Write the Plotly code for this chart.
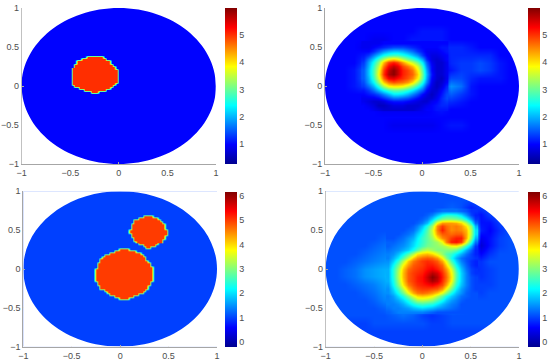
import numpy as np
import plotly.graph_objects as go

# ---------- data ----------
grid_axis = [-1.0,-0.9,-0.8,-0.7,-0.6,-0.5,-0.4,-0.3,-0.2,-0.1,0.0,0.1,0.2,0.3,0.4,0.5,0.6,0.7,0.8,0.9,1.0]

# top-right panel, rows from y=1 down to y=-1
recon_one = [
[1.0]*21,
[1.0]*21,
[1.0,1.0,1.0,1.0,1.0,1.0,1.0,1.0,1.0,1.0,1.0,1.0,1.0,1.0,1.0,1.0,1.0,1.0,1.0,1.0,1.0],
[1.0,1.0,1.0,1.0,1.0,1.0,1.0,1.0,1.0,1.0,1.1,1.1,1.1,1.0,1.0,1.0,1.0,1.0,1.0,1.0,1.0],
[1.0,1.0,1.0,1.0,1.0,0.9,0.9,1.0,1.0,1.1,1.1,1.1,1.1,1.0,1.0,1.0,1.0,1.0,1.0,1.0,1.0],
[1.0,1.0,1.0,1.0,0.9,0.9,0.9,1.1,1.1,1.1,1.0,1.0,1.2,1.2,1.2,1.1,1.0,1.0,1.0,1.0,1.0],
[1.0,1.0,1.0,1.0,1.1,1.0,1.0,1.0,1.0,1.0,1.0,0.8,1.0,1.2,1.2,1.2,1.2,1.2,1.0,1.0,1.0],
[1.0,1.0,1.0,1.0,1.3,1.0,1.0,1.0,1.0,1.0,1.0,0.9,0.9,1.2,1.3,1.3,1.4,1.3,1.1,1.0,1.0],
[1.0,1.0,1.0,1.1,1.5,1.0,1.0,1.0,1.0,1.0,1.0,1.0,0.9,1.1,1.3,1.3,1.4,1.3,1.1,1.0,1.0],
[1.0,1.0,1.0,1.1,1.5,1.0,1.0,1.0,1.0,1.0,1.0,1.0,0.9,1.4,1.4,1.2,1.1,1.1,1.1,1.0,1.0],
[1.0,1.0,1.0,1.1,1.3,1.0,1.0,1.0,1.0,1.0,1.0,1.0,1.2,1.8,1.6,1.1,1.0,1.0,1.0,1.0,1.0],
[1.0,1.0,1.0,1.0,1.0,1.0,1.0,1.0,1.0,1.0,1.0,1.0,1.3,1.5,1.3,1.1,1.0,1.0,1.0,1.0,1.0],
[1.0,1.0,1.0,1.0,1.0,1.0,1.0,1.0,1.0,1.0,1.0,1.0,1.2,1.2,1.1,1.0,1.0,1.0,1.0,1.0,1.0],
[1.0,1.0,1.0,1.0,1.0,1.0,0.9,0.9,0.9,0.9,0.9,1.0,1.1,1.0,1.0,1.0,1.0,1.0,1.0,1.0,1.0],
[1.0,1.0,1.0,1.0,1.0,1.0,1.0,1.0,1.0,1.0,1.0,1.0,1.0,1.0,1.0,1.0,1.0,1.0,1.0,1.0,1.0],
[1.0,1.0,1.0,1.0,1.0,1.0,1.0,0.9,0.9,0.9,0.9,0.9,1.0,1.1,1.1,1.0,1.0,1.0,1.0,1.0,1.0],
[1.0,1.0,1.0,1.0,1.0,1.0,1.0,1.0,1.0,1.0,1.0,1.0,1.0,1.0,1.0,1.0,1.0,1.0,1.0,1.0,1.0],
[1.0]*21,
[1.0]*21,
[1.0]*21,
[1.0]*21,
]
# finer read of the reconstructed inclusion, top-right panel
patch_one_x = [-.6,-.55,-.5,-.45,-.4,-.35,-.3,-.25,-.2,-.15,-.1,-.05,0,.05,.1,.15,.2,.25]
patch_one_y = [.55,.5,.45,.4,.35,.3,.25,.2,.15,.1,.05,0,-.05,-.1,-.15,-.2,-.25,-.3]
patch_one = [
[.9,.9,.9,.9,1.0,1.0,1.0,1.0,1.0,1.0,1.0,1.0,1.0,1.0,1.0,1.0,1.0,1.0],
[.9,.9,1.0,1.1,1.2,1.3,1.4,1.4,1.4,1.3,1.2,1.1,1.0,1.0,1.0,1.0,1.1,1.1],
[1.0,1.0,1.2,1.5,1.8,2.0,2.1,2.1,2.0,1.8,1.6,1.3,1.1,.9,.9,.9,1.0,1.1],
[1.1,1.3,1.7,2.1,2.5,2.7,2.8,2.8,2.6,2.4,2.1,1.8,1.3,1.0,.8,.8,.9,1.0],
[1.2,1.7,2.2,2.8,3.4,3.9,4.1,3.9,3.5,3.1,2.8,2.4,1.9,1.2,.8,.7,.8,1.0],
[1.3,1.9,2.5,3.2,4.2,4.9,5.1,4.9,4.4,3.9,3.5,3.0,2.3,1.5,.9,.7,.7,.9],
[1.4,2.0,2.7,3.5,4.6,5.3,5.6,5.4,4.9,4.6,4.2,3.6,2.7,1.7,1.0,.7,.7,.9],
[1.5,2.1,2.8,3.7,4.9,5.6,5.9,5.6,5.1,4.9,4.6,3.9,2.9,1.9,1.0,.7,.7,.9],
[1.5,2.1,2.8,3.8,5.0,5.7,5.9,5.6,5.1,4.9,4.7,4.1,3.0,2.0,1.1,.7,.7,.9],
[1.5,2.0,2.7,3.6,4.7,5.3,5.4,5.2,5.0,4.8,4.5,3.9,2.9,1.9,1.0,.7,.6,.9],
[1.4,1.9,2.4,3.2,4.1,4.6,4.8,4.7,4.6,4.4,4.0,3.3,2.5,1.7,.9,.6,.7,1.0],
[1.3,1.6,2.0,2.6,3.3,3.8,3.9,3.9,3.8,3.5,3.1,2.6,2.0,1.3,.8,.6,.8,1.2],
[1.1,1.3,1.6,2.0,2.4,2.7,2.9,2.9,2.8,2.6,2.3,1.9,1.5,1.0,.7,.7,1.0,1.3],
[1.0,1.1,1.2,1.4,1.7,2.0,2.3,2.3,2.2,2.0,1.7,1.4,1.0,.8,.6,.8,1.1,1.4],
[.9,.9,.9,1.0,1.2,1.4,1.6,1.6,1.5,1.4,1.2,1.0,.8,.7,.7,.9,1.2,1.4],
[.9,.8,.7,.7,.8,1.0,1.1,1.1,1.1,1.0,.9,.8,.7,.7,.9,1.0,1.2,1.3],
[1.0,.9,.8,.6,.6,.7,.8,.8,.8,.7,.7,.7,.8,.9,1.0,1.1,1.2,1.2],
[1.0,1.0,.9,.8,.7,.7,.7,.7,.7,.7,.7,.8,.9,1.0,1.0,1.1,1.1,1.1],
]

# bottom-right panel, rows from y=1 down to y=-1
recon_two = [
[1.1]*21,
[1.1]*21,
[1.1,1.1,1.1,1.1,1.1,1.1,1.1,1.1,1.1,1.1,1.1,1.1,1.1,1.2,1.1,0.8,1.0,1.1,1.1,1.1,1.1],
[1.1,1.1,1.1,1.1,1.1,1.1,1.1,1.1,1.1,1.1,1.1,1.3,1.7,1.9,1.6,1.0,0.7,1.0,1.1,1.1,1.1],
[1.1,1.1,1.1,1.1,1.1,1.1,1.1,1.1,1.1,1.2,1.3,2.0,3.8,4.2,3.6,1.7,0.7,0.7,1.0,1.1,1.1],
[1.1,1.1,1.1,1.1,1.1,1.1,1.1,1.1,1.2,1.3,1.8,3.0,5.2,4.8,4.5,3.0,0.8,0.6,0.9,1.1,1.1],
[1.1,1.1,1.1,1.1,1.1,1.1,1.2,1.2,1.3,1.5,2.1,2.9,4.5,5.0,5.1,3.0,0.5,0.7,1.0,1.1,1.1],
[1.1,1.1,1.1,1.1,1.1,1.2,1.3,1.4,1.5,1.7,2.3,2.7,3.3,5.2,4.8,1.7,0.3,0.7,1.0,1.1,1.1],
[1.1,1.1,1.1,1.1,1.2,1.3,1.4,1.5,1.7,2.1,2.8,2.6,2.5,2.5,1.9,1.1,0.6,0.9,1.1,1.1,1.1],
[1.1,1.1,1.1,1.2,1.3,1.4,1.5,1.6,2.1,3.2,4.3,4.5,3.5,2.0,1.4,1.0,0.9,1.1,1.1,1.1,1.1],
[1.1,1.1,1.2,1.3,1.5,1.6,1.7,1.7,3.0,4.5,5.2,5.2,4.6,2.8,1.5,0.8,0.9,1.0,1.1,1.1,1.1],
[1.1,1.1,1.2,1.3,1.5,1.6,1.7,2.0,3.7,5.0,5.3,6.1,5.4,3.3,1.6,1.1,0.9,1.0,1.1,1.1,1.1],
[1.1,1.1,1.1,1.2,1.3,1.4,1.6,1.9,3.3,4.8,5.3,5.5,4.9,2.8,1.4,1.0,1.0,1.0,1.1,1.1,1.1],
[1.1,1.1,1.1,1.1,1.2,1.3,1.5,1.6,2.3,3.6,4.2,4.1,3.1,1.9,1.3,1.1,1.0,1.1,1.1,1.1,1.1],
[1.1,1.1,1.1,1.1,1.1,1.2,1.4,1.4,1.7,2.0,2.2,2.1,1.8,1.4,1.2,1.1,1.1,1.1,1.1,1.1,1.1],
[1.1,1.1,1.1,1.1,1.1,1.1,1.2,1.4,1.4,1.5,1.4,1.3,1.3,1.3,1.2,1.1,1.1,1.1,1.1,1.1,1.1],
[1.1,1.1,1.1,1.1,1.1,1.1,1.1,1.2,1.3,1.2,1.0,0.9,1.0,1.1,1.1,1.1,1.1,1.1,1.1,1.1,1.1],
[1.0,1.0,1.0,1.0,1.0,1.1,1.1,1.1,1.1,1.1,1.1,1.0,1.0,1.1,1.1,1.1,1.1,1.1,1.1,1.1,1.1],
[1.0]*21,
[1.0]*21,
[1.0]*21,
]
# finer read of the reconstructed inclusions, bottom-right panel
patch_two_x = [-.35,-.3,-.25,-.2,-.15,-.1,-.05,0,.05,.1,.15,.2,.25,.3,.35,.4,.45,.5,.55]
patch_two_y = [.75,.7,.65,.6,.55,.5,.45,.4,.35,.3,.25,.2,.15,.1,.05,0,-.05,-.1,-.15,-.2,-.25,-.3,-.35,-.4,-.45,-.5,-.55]
patch_two = [
[1.1,1.1,1.1,1.1,1.1,1.1,1.1,1.1,1.1,1.1,1.2,1.3,1.3,1.3,1.3,1.2,1.1,.9,.9],
[1.1,1.1,1.1,1.1,1.1,1.1,1.1,1.1,1.2,1.4,1.8,2.2,2.4,2.4,2.3,2.0,1.5,1.0,.8],
[1.1,1.1,1.1,1.1,1.1,1.1,1.1,1.2,1.4,1.9,2.5,2.9,3.0,3.0,2.9,2.7,2.2,1.5,.9],
[1.1,1.1,1.1,1.1,1.1,1.1,1.2,1.4,1.8,2.6,3.8,4.4,4.4,4.4,4.3,4.0,3.3,2.3,1.2],
[1.1,1.1,1.1,1.1,1.1,1.2,1.4,1.8,2.4,3.2,4.5,5.0,4.7,4.5,4.6,4.4,3.9,3.0,1.7],
[1.1,1.1,1.1,1.1,1.2,1.3,1.6,2.1,2.7,3.5,4.6,5.2,4.8,4.5,4.6,4.5,4.2,3.2,2.0],
[1.1,1.1,1.1,1.2,1.3,1.5,1.9,2.3,2.8,3.4,4.4,4.8,4.8,4.7,4.8,4.8,4.3,3.2,2.0],
[1.1,1.1,1.2,1.3,1.5,1.7,2.1,2.5,2.8,3.2,3.9,4.5,4.7,5.0,5.2,5.2,4.3,3.0,1.7],
[1.2,1.2,1.3,1.4,1.6,1.9,2.2,2.5,2.8,3.0,3.2,3.7,4.6,5.2,5.3,5.0,3.7,2.4,1.3],
[1.2,1.3,1.4,1.5,1.7,2.0,2.3,2.6,2.9,3.0,3.1,3.2,3.4,3.7,3.8,3.3,2.5,1.7,.9],
[1.3,1.4,1.5,1.7,1.9,2.3,2.7,3.2,3.4,3.2,3.0,3.0,3.0,3.0,2.8,2.3,1.7,1.2,.8],
[1.4,1.5,1.8,2.2,2.7,3.3,3.9,4.1,4.2,4.0,3.6,3.1,2.7,2.5,2.1,1.7,1.3,1.0,.8],
[1.4,1.7,2.1,2.7,3.4,4.1,4.5,4.7,4.8,4.7,4.4,3.8,3.0,2.3,1.7,1.3,1.1,1.0,.9],
[1.5,1.9,2.5,3.3,4.1,4.6,4.8,5.0,5.1,5.0,4.8,4.3,3.6,2.6,1.9,1.4,1.1,.9,.8],
[1.6,2.2,2.9,3.8,4.4,4.8,4.9,5.0,5.2,5.2,5.0,4.7,4.0,3.1,2.2,1.6,1.2,.9,.8],
[1.7,2.4,3.2,4.1,4.7,4.9,5.0,5.1,5.3,5.4,5.2,4.9,4.4,3.6,2.5,1.8,1.3,1.0,.9],
[1.7,2.4,3.3,4.2,4.8,5.0,5.1,5.2,5.5,5.8,5.6,5.1,4.6,3.8,2.7,1.9,1.4,1.0,.9],
[1.7,2.4,3.3,4.2,4.8,5.0,5.2,5.3,5.7,6.1,5.8,5.2,4.7,3.9,2.7,1.9,1.4,1.1,1.0],
[1.7,2.3,3.2,4.1,4.8,5.0,5.2,5.3,5.6,5.9,5.7,5.1,4.6,3.8,2.6,1.9,1.4,1.1,1.0],
[1.6,2.2,3.0,3.9,4.6,4.9,5.1,5.2,5.3,5.4,5.2,4.9,4.3,3.4,2.4,1.8,1.4,1.1,1.0],
[1.5,2.0,2.6,3.4,4.2,4.7,4.9,5.0,5.0,4.9,4.8,4.4,3.7,2.9,2.1,1.6,1.3,1.1,1.0],
[1.5,1.8,2.3,2.9,3.7,4.3,4.6,4.7,4.6,4.4,4.1,3.6,3.0,2.3,1.8,1.5,1.2,1.1,1.1],
[1.4,1.6,2.0,2.4,3.0,3.6,4.0,4.1,4.0,3.8,3.3,2.8,2.3,1.9,1.6,1.3,1.2,1.1,1.1],
[1.4,1.5,1.7,2.0,2.4,2.9,3.3,3.4,3.3,3.1,2.7,2.3,1.9,1.6,1.4,1.2,1.1,1.1,1.1],
[1.4,1.4,1.5,1.7,2.0,2.3,2.5,2.6,2.5,2.4,2.1,1.8,1.6,1.4,1.3,1.1,1.1,1.1,1.1],
[1.3,1.4,1.4,1.5,1.6,1.8,1.9,2.0,1.9,1.8,1.6,1.5,1.4,1.3,1.2,1.1,1.1,1.1,1.1],
[1.2,1.3,1.4,1.4,1.4,1.4,1.4,1.4,1.3,1.2,1.1,1.1,1.1,1.1,1.1,1.1,1.1,1.1,1.1],
]

# exact-field blobs: one row each, (row y, left x, right x)
blob_top = [(.375,-.33,-.17),(.35,-.39,-.13),(.325,-.43,-.10),(.30,-.44,-.08),(.275,-.45,-.06),(.25,-.47,-.05),
            (.225,-.48,-.03),(.20,-.49,-.02),(.175,-.49,-.01),(.15,-.49,-.01),(.125,-.49,-.01),(.10,-.49,-.01),
            (.075,-.49,-.01),(.05,-.49,-.02),(.025,-.48,-.04),(0,-.45,-.06),(-.025,-.42,-.09),(-.05,-.36,-.14),(-.075,-.29,-.21)]
blob_large = [(.25,.0,.08),(.225,-.05,.16),(.20,-.10,.20),(.175,-.15,.23),(.15,-.19,.25),(.125,-.21,.27),(.10,-.22,.29),
              (.075,-.23,.30),(.05,-.24,.31),(.025,-.24,.33),(0,-.25,.34),(-.025,-.25,.34),(-.05,-.25,.34),(-.075,-.25,.34),
              (-.10,-.25,.34),(-.125,-.25,.33),(-.15,-.25,.33),(-.175,-.24,.32),(-.20,-.23,.31),(-.225,-.21,.29),
              (-.25,-.20,.28),(-.275,-.17,.26),(-.30,-.14,.23),(-.325,-.10,.18),(-.35,-.05,.13),(-.375,.0,.08)]
blob_small = [(.675,.24,.33),(.65,.18,.39),(.625,.15,.42),(.60,.13,.44),(.575,.12,.45),(.55,.12,.46),(.525,.11,.47),
              (.50,.10,.48),(.475,.10,.48),(.45,.11,.48),(.425,.12,.47),(.40,.13,.45),(.375,.15,.44),(.35,.17,.43),
              (.325,.20,.39),(.30,.23,.36),(.275,.26,.31)]
background_value = 1.0
inclusion_value = 5.0

ticks_axis = [-1,-0.5,0,0.5,1]
ticktext_axis = ["\u22121","\u22120.5","0","0.5","1"]
cbar_ticks_top = [1,2,3,4,5]
cbar_ticks_bottom = [0,1,2,3,4,5,6]
range_top = (0.28,5.97)
range_bottom = (-0.19,6.16)

jet = [[0,"rgb(0,0,143)"],[0.125,"rgb(0,0,255)"],[0.375,"rgb(0,255,255)"],
       [0.625,"rgb(255,255,0)"],[0.875,"rgb(255,0,0)"],[1,"rgb(128,0,0)"]]

# panels in pixels: left, right, top, bottom, cbar-left
panels = [
    (21.7,216,8,164,224.7),
    (325,519,8,164,528),
    (23.3,217,191.3,346.7,225.3),
    (325.7,519,191.3,346.7,527.7),
]
W,H = 550,363

fine = np.round(np.arange(-1,1.0001,0.025),3)
def field(blobs):
    z = np.full((fine.size,fine.size),background_value)
    for b in blobs:
        for y0,l,r in b:
            rows = np.abs(fine-y0)<=0.0126
            cols = (fine>=l-1e-6)&(fine<=r+1e-6)
            z[np.ix_(rows,cols)] = inclusion_value
    return z

sets = [
    (fine,fine,field([blob_top]),range_top,cbar_ticks_top,None),
    (grid_axis,grid_axis[::-1],recon_one,range_top,cbar_ticks_top,(patch_one_x,patch_one_y,patch_one)),
    (fine,fine,field([blob_large,blob_small]),range_bottom,cbar_ticks_bottom,None),
    (grid_axis,grid_axis[::-1],recon_two,range_bottom,cbar_ticks_bottom,(patch_two_x,patch_two_y,patch_two)),
]

fig = go.Figure()
k = 0.5523
hole = (f"M-1,0 C-1,{k} {-k},1 0,1 C{k},1 1,{k} 1,0 C1,{-k} {k},-1 0,-1 C{-k},-1 -1,{-k} -1,0 Z ")
outer = "M-1.1,-1.1 L1.1,-1.1 L1.1,1.1 L-1.1,1.1 Z "
shapes = []
layout = {}
for i,((xs,ys,z,rng,cb,patch),(l,r,t,b,cl)) in enumerate(zip(sets,panels),1):
    sfx = "" if i==1 else str(i)
    fig.add_trace(go.Heatmap(x=list(xs),y=list(ys),z=np.asarray(z).tolist(),zsmooth="best",
        colorscale=jet,zmin=rng[0],zmax=rng[1],xaxis=f"x{sfx}",yaxis=f"y{sfx}",
        colorbar=dict(x=cl/W,xanchor="left",xpad=0,ypad=0,y=1-b/H,yanchor="bottom",len=(b-t)/H,lenmode="fraction",
                      thickness=12.3,thicknessmode="pixels",outlinewidth=0,tickvals=cb,ticks="",
                      tickfont=dict(family="Liberation Sans",size=9,color="#4d4d4d")),
        hoverinfo="skip"))
    if patch:
        fig.add_trace(go.Heatmap(x=patch[0],y=patch[1],z=patch[2],zsmooth="best",showscale=False,
            colorscale=jet,zmin=rng[0],zmax=rng[1],xaxis=f"x{sfx}",yaxis=f"y{sfx}",hoverinfo="skip"))
    common = dict(tickvals=ticks_axis,ticktext=ticktext_axis,range=[-1,1],showgrid=False,zeroline=False,
                  showline=True,linecolor="#a6a6a6",linewidth=1,ticks="inside",ticklen=2,tickcolor="#a6a6a6",tickwidth=1,
                  tickfont=dict(family="Liberation Sans",size=9,color="#4d4d4d"))
    layout[f"xaxis{sfx}"] = dict(common,domain=[l/W,r/W],anchor=f"y{sfx}")
    layout[f"yaxis{sfx}"] = dict(common,domain=[1-b/H,1-t/H],anchor=f"x{sfx}")
    shapes.append(dict(type="path",path=outer+hole,xref=f"x{sfx}",yref=f"y{sfx}",fillcolor="white",
                       fillrule="evenodd",line=dict(width=0),layer="above"))

fig.update_layout(width=W,height=H,margin=dict(l=0,r=0,t=0,b=0,autoexpand=False),paper_bgcolor="white",plot_bgcolor="white",
                  shapes=shapes,showlegend=False,**layout)
fig.write_html("out.html",config={"displayModeBar":False},
               post_script="document.body.style.margin='0';document.documentElement.style.overflow='hidden';")
